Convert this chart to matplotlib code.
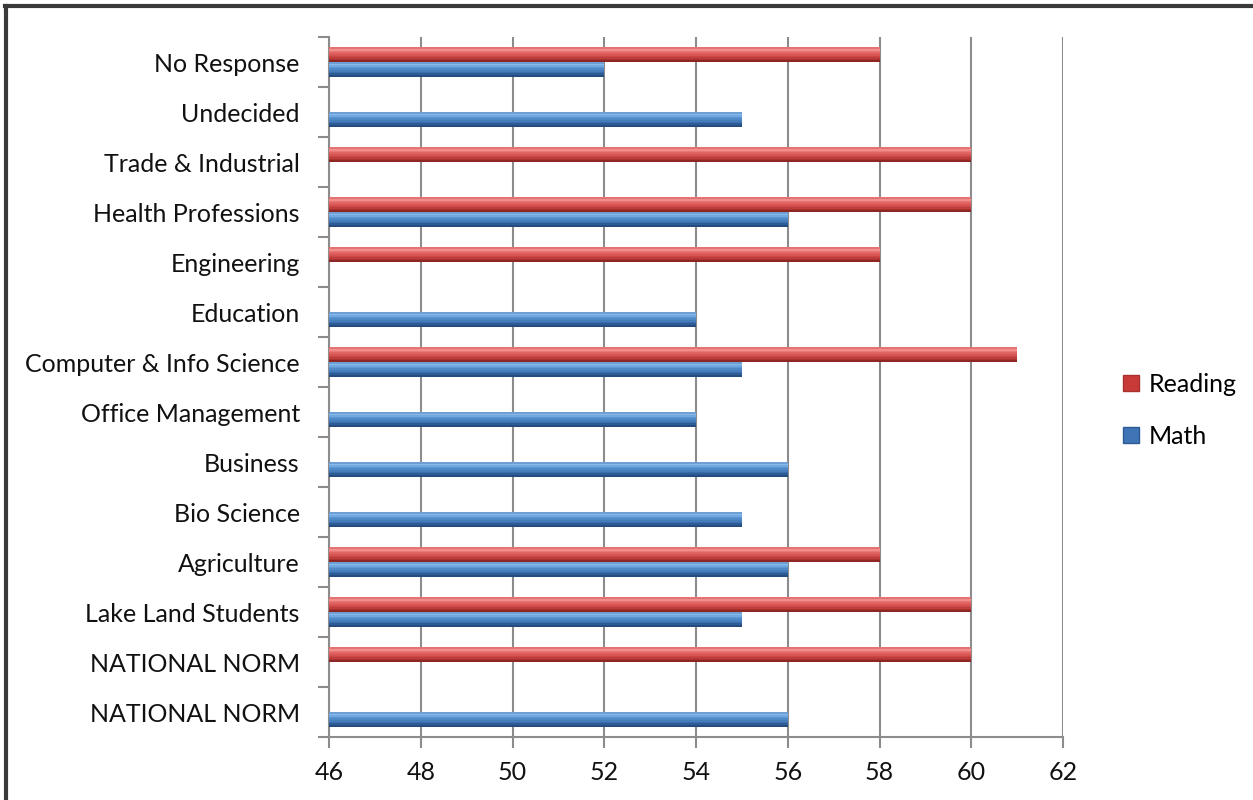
import numpy as np
import matplotlib.pyplot as plt
from matplotlib.lines import Line2D

categories = ['No Response', 'Undecided', 'Trade & Industrial', 'Health Professions',
              'Engineering', 'Education', 'Computer & Info Science', 'Office Management',
              'Business', 'Bio Science', 'Agriculture', 'Lake Land Students',
              'NATIONAL NORM', 'NATIONAL NORM']
reading = [58, None, 60, 60, 58, None, 61, None, None, None, 58, 60, 60, None]
math = [52, 55, None, 56, None, 54, 55, 54, 56, 55, 56, 55, None, 56]
xticks = [46, 48, 50, 52, 54, 56, 58, 60, 62]

plt.rcParams['font.family'] = ['Lato', 'DejaVu Sans']

fig = plt.figure(figsize=(12.53, 8), dpi=100)
ax = fig.add_axes([0.2626, 0.07875, 0.5858, 0.875])

pos = np.arange(len(categories))
h = 0.29
base = 46


def shaded_bars(ypos, vals, shades):
    ys = [y for y, v in zip(ypos, vals) if v is not None]
    ws = [v - base for v in vals if v is not None]
    # stack of bands from the dark lower edge up to the light top edge
    n = len(shades)
    for i, c in enumerate(shades):
        bh = h / n
        offs = h / 2 - bh * (i + 0.5)
        ax.barh([y + offs for y in ys], ws, height=bh * 1.02, left=base, color=c,
                linewidth=0, zorder=3)


red_shades = ['#8e2624', '#a83230', '#bd3d3a', '#cc4846', '#d65452', '#e06462',
              '#ea7775', '#f08e8c', '#e57371']
blue_shades = ['#254c7e', '#2e5c96', '#3a6dab', '#457cbc', '#5089c8', '#5e97d3',
               '#6fa7de', '#88bbea', '#6d9fd4']
shaded_bars(pos - h / 2, reading, red_shades)
shaded_bars(pos + h / 2, math, blue_shades)

ax.set_xlim(46, 62)
ax.set_ylim(len(categories) - 0.5, -0.5)
ax.set_xticks(xticks)
ax.set_yticks(pos)
ax.set_yticklabels(categories)
ax.set_yticks(np.arange(len(categories) + 1) - 0.5, minor=True)

ax.tick_params(axis='y', which='major', length=0, pad=21, labelsize=18, labelcolor='#111111')
ax.tick_params(axis='y', which='minor', length=8, width=1.5, color='#8c8c8c')
ax.tick_params(axis='x', length=8, width=1.5, color='#8c8c8c', pad=9, labelsize=18,
               labelcolor='#111111')

ax.grid(axis='x', color='#8c8c8c', linewidth=1.5, zorder=0)
for s in ['top', 'right']:
    ax.spines[s].set_visible(False)
for s in ['left', 'bottom']:
    ax.spines[s].set_color('#8c8c8c')
    ax.spines[s].set_linewidth(1.5)

handles = [Line2D([], [], marker='s', linestyle='none', markersize=11,
                  markerfacecolor='#c83a38', markeredgecolor='#a8302e'),
           Line2D([], [], marker='s', linestyle='none', markersize=11,
                  markerfacecolor='#3f74b6', markeredgecolor='#2d5a92')]
fig.legend(handles, ['Reading', 'Math'], loc='center left', bbox_to_anchor=(0.877, 0.487),
           frameon=False, fontsize=18, labelspacing=1.15, handletextpad=0.3,
           handlelength=0.8)

# frame lines along the top and left edge
fig.add_artist(Line2D([0.004, 1.0], [0.9925, 0.9925], color='#3a3a3a', linewidth=3))
fig.add_artist(Line2D([0.0045, 0.0045], [0.0, 0.9925], color='#3a3a3a', linewidth=3))

fig.savefig('out.png', dpi=100)
